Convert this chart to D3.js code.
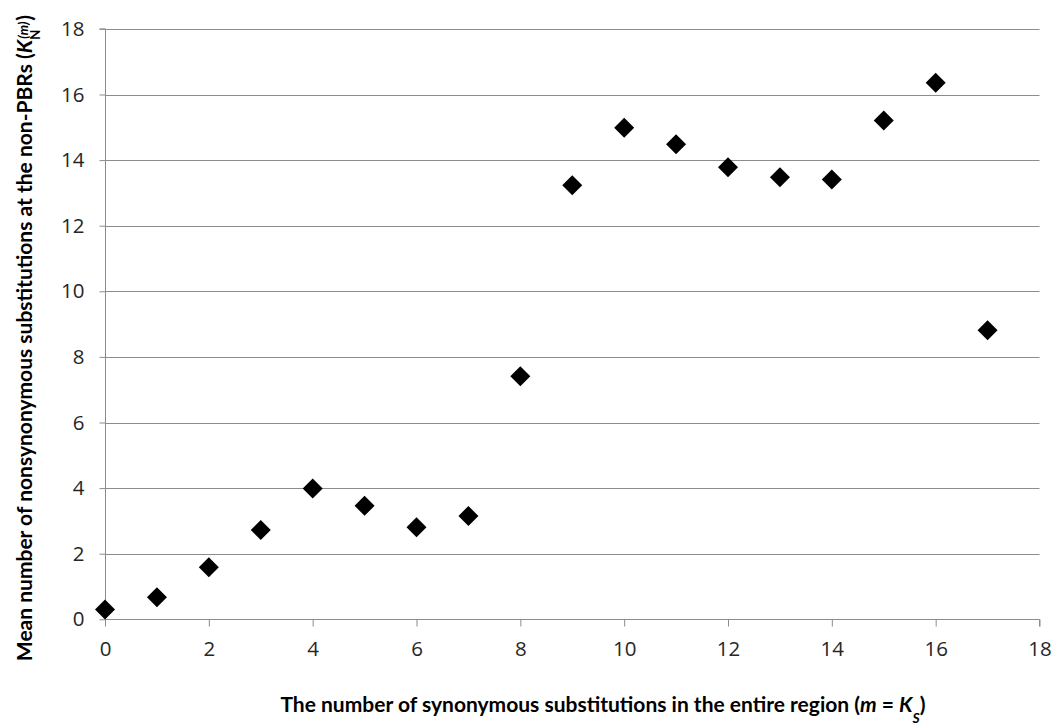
<!DOCTYPE html>
<html><head><meta charset="utf-8">
<script src="https://cdn.jsdelivr.net/npm/d3@7"></script>
<style>body{margin:0;background:#fff}svg{display:block}</style>
</head><body>
<svg id="c" width="1054" height="726"></svg>
<script>
const xValues = [0,1,2,3,4,5,6,7,8,9,10,11,12,13,14,15,16,17];
const yValues = [0.30,0.67,1.59,2.72,3.99,3.46,2.81,3.15,7.41,13.23,14.99,14.48,13.78,13.48,13.41,15.21,16.36,8.81];
const xTicks = [0,2,4,6,8,10,12,14,16,18];
const yTicks = [0,2,4,6,8,10,12,14,16,18];

const svg = d3.select('#c');
const tickFont = "'Open Sans', sans-serif";
const titleFont = "Lato, 'Open Sans', sans-serif";
const x = d3.scaleLinear().domain([0,18]).range([105,1039.5]);
const y = d3.scaleLinear().domain([0,18]).range([619.3,28.9]);
const grid = '#8c8c8c';

// gridlines
svg.append('g').selectAll('line').data(yTicks.filter(d=>d>0)).join('line')
  .attr('x1',x(0)).attr('x2',x(18)).attr('y1',d=>Math.round(y(d))+0.5).attr('y2',d=>Math.round(y(d))+0.5)
  .attr('stroke',grid).attr('stroke-width',1);

// y axis
const ya = svg.append('g').attr('transform',`translate(${Math.round(x(0))+0.5},0)`)
  .call(d3.axisLeft(y).tickValues(yTicks).tickSize(6).tickPadding(15).tickFormat(d3.format('d')));
// x axis
const xa = svg.append('g').attr('transform',`translate(0,${Math.round(y(0))+0.5})`)
  .call(d3.axisBottom(x).tickValues(xTicks).tickSize(7).tickPadding(14.5).tickFormat(d3.format('d')));
[ya,xa].forEach(a=>{
  a.selectAll('path').attr('stroke',grid).attr('stroke-width',1);
  a.selectAll('line').attr('stroke',grid);
  a.selectAll('text').attr('font-family',tickFont).attr('font-size',20.5).attr('fill','#262626');
});
ya.select('path.domain').attr('d',`M-6,${y(18)}H0V${y(0)}`);
xa.select('path.domain').attr('d',`M${x(0)},0H${x(18)}V7`);

// points
const sym = d3.symbol().type(d3.symbolSquare).size(200);
svg.append('g').selectAll('path').data(xValues.map((v,i)=>[v,yValues[i]])).join('path')
  .attr('d',sym).attr('fill','#000')
  .attr('transform',d=>`translate(${x(d[0])},${y(d[1])}) rotate(45)`);

// x title
const xt = svg.append('text').attr('x',603).attr('y',711.5).attr('text-anchor','middle')
  .attr('font-family',titleFont).attr('font-size',21).attr('font-weight','bold').attr('fill','#000');
xt.append('tspan').text('The number of synonymous substitutions in the entire region (');
xt.append('tspan').attr('font-style','italic').text('m');
xt.append('tspan').text(' = ');
xt.append('tspan').attr('font-style','italic').text('K');
xt.append('tspan').attr('font-style','italic').attr('font-size',14).attr('dy',11).text('S');
xt.append('tspan').attr('dy',-11).text(')');

// y title
const yt = svg.append('text').attr('transform','translate(31.5,338) rotate(-90)').attr('text-anchor','middle')
  .attr('font-family',titleFont).attr('font-size',21).attr('font-weight','bold').attr('fill','#000');
yt.append('tspan').text('Mean number of nonsynonymous substitutions at the non-PBRs (');
yt.append('tspan').attr('font-style','italic').text('K');
yt.append('tspan').attr('font-size',13).attr('dy',8).text('N');
yt.append('tspan').attr('font-size',13).attr('dy',-12).attr('dx',-9).attr('font-style','italic').text('(m)');
yt.append('tspan').attr('dy',4).attr('dx',1).text(')');
</script>
</body></html>
